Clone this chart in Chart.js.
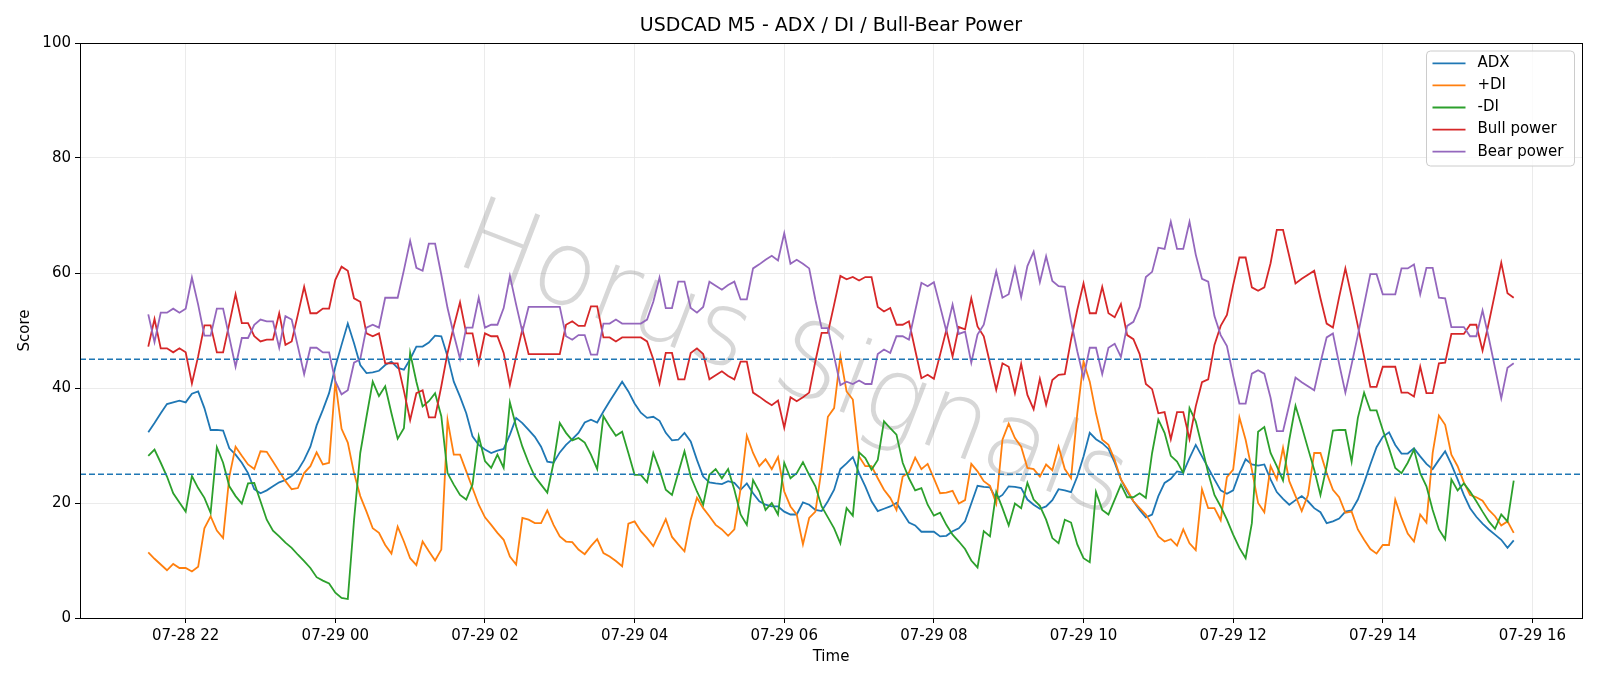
<!DOCTYPE html>
<html>
<head>
<meta charset="utf-8">
<title>USDCAD M5 - ADX / DI / Bull-Bear Power</title>
<script src="https://cdn.jsdelivr.net/npm/chart.js@4.4.1/dist/chart.umd.min.js"></script>
<style>
  html, body { margin: 0; padding: 0; background: #fff; }
  #wrap { width: 1600px; height: 686px; }
</style>
</head>
<body>
<div id="wrap"><canvas id="chart" width="1600" height="686"></canvas></div>
<script>
// M5 bars from 07-28 21:30 to 07-29 15:45, x measured in hours from 07-29 00:00
var startHour = -2.5;
var barHours = 5 / 60;

var tickHours = [-2, 0, 2, 4, 6, 8, 10, 12, 14, 16];
var tickLabels = ["07-28 22", "07-29 00", "07-29 02", "07-29 04", "07-29 06",
                  "07-29 08", "07-29 10", "07-29 12", "07-29 14", "07-29 16"];
var levels = [25, 45];

var adx = [
  32.3, 33.9, 35.6, 37.2, 37.5, 37.8, 37.5, 39.0, 39.4, 36.5,
  32.7, 32.7, 32.6, 29.5, 28.4, 27.0, 25.2, 22.4, 21.7, 22.2,
  22.9, 23.6, 24.0, 24.7, 25.7, 27.5, 29.8, 33.5, 36.2, 39.1,
  43.7, 47.5, 51.2, 47.8, 44.0, 42.6, 42.7, 43.0, 44.0, 44.6,
  43.5, 43.2, 45.0, 47.2, 47.2, 47.9, 49.1, 49.0, 45.5, 41.1,
  38.5, 35.6, 31.6, 30.1, 29.3, 28.7, 29.1, 29.4, 31.9, 34.8,
  33.9, 32.7, 31.5, 29.8, 27.2, 27.0, 28.8, 30.1, 31.1, 32.2,
  34.0, 34.5, 34.0, 35.9, 37.7, 39.4, 41.1, 39.4, 37.3, 35.7,
  34.8, 35.0, 34.3, 32.2, 30.9, 31.0, 32.2, 30.7, 27.5, 24.6,
  23.6, 23.4, 23.3, 23.8, 23.5, 22.3, 23.4, 21.7, 20.3, 19.7,
  19.4, 19.4, 18.5, 18.0, 18.0, 20.1, 19.7, 18.8, 18.6, 20.3,
  22.3, 25.9, 26.9, 28.0, 25.2, 22.9, 20.3, 18.6, 19.0, 19.4,
  20.0, 18.3, 16.6, 16.1, 15.0, 15.0, 15.0, 14.2, 14.3, 15.1,
  15.6, 16.8, 19.9, 23.0, 22.8, 22.7, 20.7, 21.4, 22.9, 22.8,
  22.6, 20.6, 19.7, 19.0, 19.4, 20.5, 22.4, 22.2, 21.9, 24.6,
  28.1, 32.2, 31.1, 30.4, 29.4, 27.0, 24.1, 22.0, 20.3, 18.8,
  17.5, 18.0, 21.2, 23.5, 24.2, 25.5, 25.3, 27.8, 30.1, 28.1,
  26.1, 24.1, 22.2, 21.6, 22.2, 25.2, 27.6, 26.7, 26.5, 26.7,
  24.1, 21.9, 20.7, 19.7, 20.5, 21.2, 20.3, 19.1, 18.4, 16.5,
  16.8, 17.3, 18.5, 18.7, 20.6, 23.5, 26.7, 29.7, 31.5, 32.3,
  30.1, 28.6, 28.6, 29.5, 28.1, 26.8, 25.9, 27.5, 29.0, 26.7,
  24.1, 21.4, 19.1, 17.6, 16.4, 15.4, 14.5, 13.6, 12.2, 13.5
];

var plusDI = [
  11.4, 10.3, 9.3, 8.3, 9.4, 8.7, 8.7, 8.1, 8.9, 15.6,
  17.7, 15.2, 13.9, 24.6, 29.8, 28.2, 26.7, 25.9, 29.0, 28.9,
  27.2, 25.5, 23.8, 22.4, 22.6, 25.2, 26.4, 28.8, 26.7, 27.0,
  41.1, 32.9, 30.5, 25.2, 21.2, 18.5, 15.6, 14.8, 12.7, 11.2,
  15.9, 13.3, 10.4, 9.2, 13.3, 11.6, 10.0, 11.9, 34.4, 28.4,
  28.4, 25.5, 22.6, 19.7, 17.5, 16.2, 14.8, 13.6, 10.7, 9.3,
  17.4, 17.1, 16.5, 16.5, 18.7, 16.2, 14.2, 13.3, 13.2, 11.9,
  11.1, 12.5, 13.7, 11.3, 10.7, 9.9, 9.0, 16.4, 16.8, 15.1,
  13.9, 12.5, 14.8, 17.2, 14.1, 12.8, 11.6, 17.1, 20.9, 19.1,
  17.7, 16.2, 15.4, 14.3, 15.4, 22.5, 31.7, 28.7, 26.4, 27.6,
  25.9, 28.0, 22.0, 19.4, 18.0, 12.8, 17.4, 18.5, 26.0, 35.0,
  36.5, 45.5, 39.4, 38.0, 28.1, 26.4, 26.4, 24.3, 22.3, 20.9,
  18.8, 24.6, 25.3, 27.9, 25.9, 26.8, 24.3, 21.7, 21.8, 22.1,
  19.9, 20.5, 26.8, 25.5, 23.8, 23.0, 19.9, 31.0, 33.8, 31.3,
  29.8, 26.1, 25.9, 24.6, 26.7, 25.7, 29.8, 25.9, 24.3, 35.6,
  44.6, 41.1, 35.6, 31.0, 30.1, 27.5, 24.1, 22.3, 20.3, 19.1,
  18.0, 16.2, 14.2, 13.3, 13.7, 12.6, 15.4, 13.0, 11.8, 22.4,
  19.1, 19.1, 17.0, 24.5, 25.8, 34.9, 31.0, 25.8, 20.0, 18.4,
  26.4, 24.1, 29.6, 23.8, 21.2, 18.6, 21.4, 28.7, 28.7, 25.2,
  22.3, 21.0, 18.3, 18.5, 15.4, 13.6, 12.0, 11.2, 12.7, 12.7,
  20.6, 17.4, 14.7, 13.3, 18.0, 16.6, 28.7, 35.2, 33.6, 28.4,
  26.4, 23.6, 21.4, 21.0, 20.4, 18.8, 17.7, 16.1, 16.8, 14.8
];

var minusDI = [
  28.2, 29.3, 27.0, 24.6, 21.7, 20.1, 18.5, 24.7, 22.6, 20.9,
  18.3, 29.7, 27.0, 22.9, 21.2, 19.9, 23.4, 23.5, 20.3, 17.1,
  15.2, 14.2, 13.1, 12.2, 11.0, 9.9, 8.7, 7.1, 6.5, 6.0,
  4.4, 3.5, 3.3, 17.0, 28.7, 35.0, 41.1, 38.6, 40.3, 35.6,
  31.2, 33.0, 46.1, 41.1, 36.8, 37.7, 39.1, 35.1, 25.2, 23.2,
  21.4, 20.6, 23.2, 31.6, 27.3, 26.1, 28.4, 26.1, 37.5, 33.3,
  29.8, 27.0, 24.6, 23.2, 21.8, 27.0, 33.9, 32.2, 30.9, 31.3,
  30.5, 28.4, 25.9, 35.1, 33.3, 31.7, 32.4, 28.7, 24.9, 24.9,
  23.6, 28.7, 25.8, 22.3, 21.4, 25.2, 29.0, 24.6, 22.0, 19.7,
  24.9, 25.9, 24.3, 25.9, 22.3, 18.0, 16.2, 24.0, 22.0, 18.8,
  20.0, 18.0, 27.0, 24.3, 25.2, 27.1, 24.9, 22.9, 19.4, 17.5,
  15.6, 13.0, 19.1, 17.8, 28.8, 27.8, 25.8, 27.5, 34.2, 33.0,
  31.9, 27.0, 24.3, 22.2, 22.6, 19.7, 17.8, 18.3, 16.2, 14.5,
  13.3, 12.0, 10.0, 8.8, 15.1, 14.2, 21.9, 19.1, 16.1, 19.9,
  19.1, 23.5, 20.6, 19.5, 17.1, 13.9, 13.0, 17.1, 16.6, 12.8,
  10.4, 9.7, 21.9, 18.8, 18.0, 20.6, 23.2, 21.0, 21.0, 21.7,
  20.9, 28.7, 34.5, 32.2, 28.2, 27.2, 25.2, 36.5, 34.2, 29.8,
  25.2, 21.4, 19.4, 17.1, 14.5, 12.2, 10.4, 16.5, 32.4, 33.2,
  28.7, 26.4, 23.9, 31.0, 36.9, 33.3, 29.5, 25.8, 21.4, 26.4,
  32.6, 32.7, 32.7, 27.2, 34.8, 39.2, 36.1, 36.1, 32.7, 29.5,
  26.1, 25.2, 27.0, 29.3, 25.2, 22.9, 18.8, 15.4, 13.7, 24.1,
  22.2, 23.4, 22.0, 20.3, 18.5, 16.8, 15.5, 18.0, 16.8, 23.9
];

var bullPower = [
  47.2, 52.0, 46.9, 46.9, 46.2, 46.9, 46.2, 40.8, 45.5, 50.9,
  50.9, 46.2, 46.2, 51.2, 56.3, 51.3, 51.3, 49.0, 48.1, 48.4,
  48.4, 53.0, 47.5, 48.1, 52.8, 57.6, 53.0, 53.0, 53.8, 53.8,
  58.8, 61.1, 60.4, 55.6, 55.0, 49.5, 49.0, 49.5, 44.3, 44.3,
  44.3, 39.5, 34.4, 39.1, 39.6, 34.9, 34.9, 40.3, 46.1, 50.7,
  54.9, 49.5, 49.5, 44.3, 49.5, 49.0, 49.0, 46.1, 40.5, 45.5,
  50.2, 45.9, 45.9, 45.9, 45.9, 45.9, 45.9, 51.0, 51.6, 50.8,
  50.8, 54.2, 54.2, 48.8, 48.8, 48.1, 48.8, 48.8, 48.8, 48.8,
  48.1, 45.0, 40.8, 46.1, 46.1, 41.5, 41.5, 46.1, 46.9, 45.9,
  41.5, 42.2, 42.9, 42.1, 41.5, 44.6, 44.6, 39.2, 38.5, 37.7,
  37.0, 37.8, 33.1, 38.4, 37.7, 38.4, 39.2, 44.7, 49.6, 49.6,
  54.5, 59.5, 58.9, 59.3, 58.7, 59.3, 59.3, 54.1, 53.3, 53.9,
  51.0, 51.0, 51.6, 46.6, 41.7, 42.3, 41.6, 45.8, 50.1, 45.5,
  50.6, 50.2, 55.6, 50.7, 49.0, 44.3, 39.7, 44.3, 43.7, 39.1,
  44.2, 38.8, 36.3, 41.6, 37.1, 41.4, 42.3, 42.4, 48.4, 53.6,
  58.2, 53.0, 53.0, 57.6, 53.0, 52.3, 54.6, 49.2, 48.5, 45.9,
  40.7, 39.8, 35.6, 35.8, 31.1, 35.8, 35.8, 31.1, 36.8, 41.0,
  41.5, 47.5, 50.8, 52.7, 57.9, 62.7, 62.7, 57.5, 56.9, 57.5,
  61.7, 67.5, 67.5, 62.9, 58.2, 59.0, 59.7, 60.4, 55.6, 51.2,
  50.5, 55.8, 60.8, 55.9, 50.8, 45.5, 40.2, 40.2, 43.7, 43.7,
  43.7, 39.2, 39.2, 38.5, 43.7, 39.1, 39.1, 44.3, 44.4, 49.4,
  49.4, 49.4, 51.0, 51.0, 46.5, 51.3, 56.5, 61.8, 56.5, 55.7
];

var bearPower = [
  52.8, 48.0, 53.1, 53.1, 53.8, 53.1, 53.8, 59.2, 54.5, 49.1,
  49.1, 53.8, 53.8, 48.8, 43.7, 48.7, 48.7, 51.0, 51.9, 51.6,
  51.6, 47.0, 52.5, 51.9, 47.2, 42.4, 47.0, 47.0, 46.2, 46.2,
  41.2, 38.9, 39.6, 44.4, 45.0, 50.5, 51.0, 50.5, 55.7, 55.7,
  55.7, 60.5, 65.6, 60.9, 60.4, 65.1, 65.1, 59.7, 53.9, 49.3,
  45.1, 50.5, 50.5, 55.7, 50.5, 51.0, 51.0, 53.9, 59.5, 54.5,
  49.8, 54.1, 54.1, 54.1, 54.1, 54.1, 54.1, 49.0, 48.4, 49.2,
  49.2, 45.8, 45.8, 51.2, 51.2, 51.9, 51.2, 51.2, 51.2, 51.2,
  51.9, 55.0, 59.2, 53.9, 53.9, 58.5, 58.5, 53.9, 53.1, 54.1,
  58.5, 57.8, 57.1, 57.9, 58.5, 55.4, 55.4, 60.8, 61.5, 62.3,
  63.0, 62.2, 66.9, 61.6, 62.3, 61.6, 60.8, 55.3, 50.4, 50.4,
  45.5, 40.5, 41.1, 40.7, 41.3, 40.7, 40.7, 45.9, 46.7, 46.1,
  49.0, 49.0, 48.4, 53.4, 58.3, 57.7, 58.4, 54.2, 49.9, 54.5,
  49.4, 49.8, 44.4, 49.3, 51.0, 55.7, 60.3, 55.7, 56.3, 60.9,
  55.8, 61.2, 63.7, 58.4, 62.9, 58.6, 57.7, 57.6, 51.6, 46.4,
  41.8, 47.0, 47.0, 42.4, 47.0, 47.7, 45.4, 50.8, 51.5, 54.1,
  59.3, 60.2, 64.4, 64.2, 68.9, 64.2, 64.2, 68.9, 63.2, 59.0,
  58.5, 52.5, 49.2, 47.3, 42.1, 37.3, 37.3, 42.5, 43.1, 42.5,
  38.3, 32.5, 32.5, 37.1, 41.8, 41.0, 40.3, 39.6, 44.4, 48.8,
  49.5, 44.2, 39.2, 44.1, 49.2, 54.5, 59.8, 59.8, 56.3, 56.3,
  56.3, 60.8, 60.8, 61.5, 56.3, 60.9, 60.9, 55.7, 55.6, 50.6,
  50.6, 50.6, 49.0, 49.0, 53.5, 48.7, 43.5, 38.2, 43.5, 44.3
];

var xMin = -3.4125, xMax = 16.6625;

function pts(values) {
  return values.map(function (v, i) { return { x: startHour + i * barHours, y: v }; });
}

var series = [
  { label: "ADX", data: adx, color: "#1f77b4" },
  { label: "+DI", data: plusDI, color: "#ff7f0e" },
  { label: "-DI", data: minusDI, color: "#2ca02c" },
  { label: "Bull power", data: bullPower, color: "#d62728" },
  { label: "Bear power", data: bearPower, color: "#9467bd" }
];

var datasets = series.map(function (s, k) {
  return {
    label: s.label, data: pts(s.data), borderColor: s.color, backgroundColor: s.color,
    borderWidth: 1.8, pointRadius: 0, tension: 0, fill: false, order: series.length - k
  };
});
levels.forEach(function (lv) {
  datasets.push({
    label: "level " + lv, data: [{ x: xMin, y: lv }, { x: xMax, y: lv }],
    borderColor: "#1f77b4", borderWidth: 1.4, borderDash: [6, 3],
    pointRadius: 0, fill: false, order: 0
  });
});

var FONT = "'DejaVu Sans', sans-serif";

var bgPlugin = {
  id: "bg",
  beforeDraw: function (chart) {
    var c = chart.ctx;
    c.save(); c.fillStyle = "#fff"; c.fillRect(0, 0, chart.width, chart.height); c.restore();
  }
};

// light grey rotated watermark behind the lines
var watermark = {
  id: "watermark",
  beforeDatasetsDraw: function (chart) {
    var c = chart.ctx;
    c.save();
    c.translate(792, 364);
    c.rotate(21 * Math.PI / 180);
    c.font = "200 104px 'DejaVu Sans ExtraLight', 'DejaVu Sans Light', 'DejaVu Sans', sans-serif";
    c.textAlign = "center";
    c.textBaseline = "middle";
    c.fillStyle = "rgba(150,150,150,0.38)";
    c.fillText("Horus Signals", 0, 0);
    c.restore();
  }
};

var frame = {
  id: "frame",
  afterDatasetsDraw: function (chart) {
    var a = chart.chartArea, c = chart.ctx;
    c.save();
    c.strokeStyle = "#000"; c.lineWidth = 1;
    c.strokeRect(Math.round(a.left) + 0.5, Math.round(a.top) + 0.5,
                 Math.round(a.right - a.left), Math.round(a.bottom - a.top));
    c.restore();
  }
};

var legendBox = {
  id: "legendBox",
  afterDraw: function (chart) {
    var c = chart.ctx;
    var x0 = 1426.5, y0 = 51, w = 148, h = 115, r = 4;
    c.save();
    c.beginPath();
    c.moveTo(x0 + r, y0);
    c.arcTo(x0 + w, y0, x0 + w, y0 + h, r);
    c.arcTo(x0 + w, y0 + h, x0, y0 + h, r);
    c.arcTo(x0, y0 + h, x0, y0, r);
    c.arcTo(x0, y0, x0 + w, y0, r);
    c.closePath();
    c.fillStyle = "rgba(255,255,255,0.8)";
    c.fill();
    c.strokeStyle = "#cccccc"; c.lineWidth = 1;
    c.stroke();
    c.font = "15px " + FONT;
    c.textBaseline = "middle";
    c.textAlign = "left";
    series.forEach(function (s, k) {
      var y = 63.3 + k * 22.1;
      c.strokeStyle = s.color; c.lineWidth = 1.8;
      c.beginPath(); c.moveTo(1432.5, y); c.lineTo(1465.5, y); c.stroke();
      c.fillStyle = "#000";
      c.fillText(s.label, 1477.5, y);
    });
    c.restore();
  }
};

new Chart(document.getElementById("chart"), {
  type: "line",
  data: { datasets: datasets },
  plugins: [bgPlugin, watermark, frame, legendBox],
  options: {
    responsive: false,
    devicePixelRatio: 1,
    animation: false,
    layout: { padding: { left: 0, right: 18, top: 0, bottom: 0 } },
    plugins: {
      legend: { display: false },
      tooltip: { enabled: false },
      title: {
        display: true, fullSize: false,
        text: "USDCAD M5 - ADX / DI / Bull-Bear Power",
        color: "#000", font: { family: FONT, size: 19, weight: "normal" },
        padding: { top: 15, bottom: 5.2 }
      }
    },
    scales: {
      x: {
        type: "linear", min: xMin, max: xMax,
        afterBuildTicks: function (s) { s.ticks = tickHours.map(function (v) { return { value: v }; }); },
        afterFit: function (s) { s.height = 68; },
        ticks: {
          autoSkip: false, maxRotation: 0, padding: 4, color: "#000",
          font: { family: FONT, size: 15 },
          callback: function (v) { var k = tickHours.indexOf(v); return k >= 0 ? tickLabels[k] : ""; }
        },
        grid: { color: "#e6e6e6", lineWidth: 0.8, tickColor: "#000", tickLength: 5, tickWidth: 1 },
        border: { color: "#000", width: 1 },
        title: { display: true, text: "Time", color: "#000", font: { family: FONT, size: 15 },
                 padding: { top: 20, bottom: 20 } }
      },
      y: {
        min: 0, max: 100,
        afterFit: function (s) { s.width = 80; },
        ticks: { stepSize: 20, padding: 4, color: "#000", font: { family: FONT, size: 15 } },
        grid: { color: "#e6e6e6", lineWidth: 0.8, tickColor: "#000", tickLength: 5, tickWidth: 1 },
        border: { color: "#000", width: 1 },
        title: { display: true, text: "Score", color: "#000", font: { family: FONT, size: 15 },
                 padding: { top: 16, bottom: 16 } }
      }
    }
  }
});
</script>
</body>
</html>
